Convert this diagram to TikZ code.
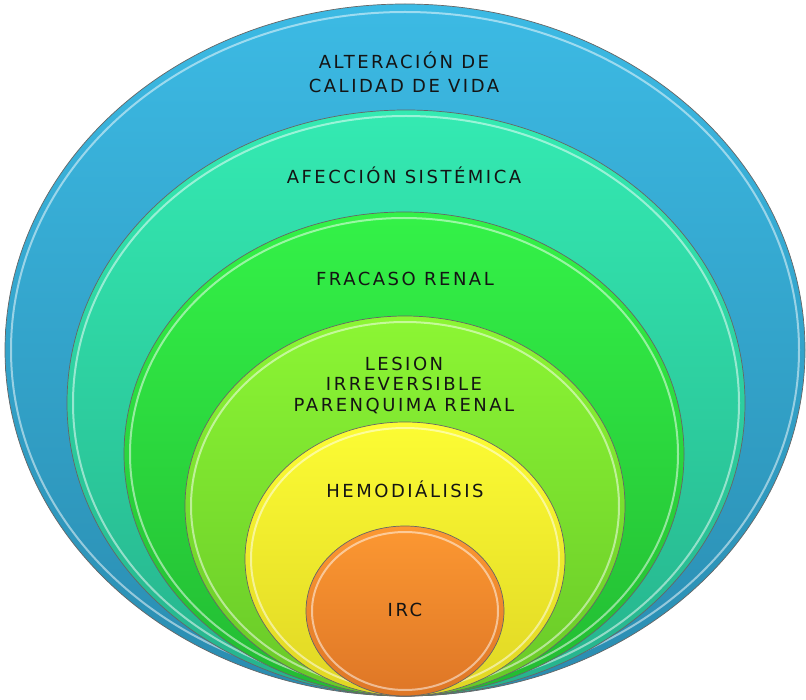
\documentclass[tikz,border=0pt]{standalone}
\usepackage{fontspec}
\newfontfamily\ringfont[LetterSpace=14]{DejaVu Sans}
\usetikzlibrary{shapes.geometric,positioning}

\definecolor{vidatop}{RGB}{60,186,228}
\definecolor{vidabot}{RGB}{42,140,176}
\definecolor{sistop}{RGB}{52,234,178}
\definecolor{sisbot}{RGB}{38,178,140}
\definecolor{fractop}{RGB}{52,242,72}
\definecolor{fracbot}{RGB}{34,186,50}
\definecolor{lestop}{RGB}{140,246,52}
\definecolor{lesbot}{RGB}{104,200,40}
\definecolor{hemotop}{RGB}{252,252,52}
\definecolor{hemobot}{RGB}{224,214,36}
\definecolor{irctop}{RGB}{252,152,50}
\definecolor{ircbot}{RGB}{222,118,38}

\tikzset{
  layer/.style={ellipse, draw=black!60, line width=0.7pt, inner sep=0pt},
  shine/.style={draw=white, draw opacity=0.5, line width=2pt},
  caption/.style={font=\ringfont\fontsize{18}{24}\selectfont, text=black!92, align=center, inner sep=0pt}
}

\begin{document}
\begin{tikzpicture}[x=1pt,y=-1pt]
  \useasboundingbox (0,0) rectangle (806,700);

  % rings, outside in
  \node (vida) [layer, top color=vidatop, bottom color=vidabot,
    minimum width=800pt, minimum height=692pt] at (405,350) {};
  \draw[shine] (vida.center) ellipse (394pt and 338pt);
  \node (sistema) [layer, top color=sistop, bottom color=sisbot,
    minimum width=678pt, minimum height=586pt] at (406,403) {};
  \draw[shine] (sistema.center) ellipse (333pt and 287pt);
  \node (fracaso) [layer, top color=fractop, bottom color=fracbot,
    minimum width=560pt, minimum height=484pt] at (404,454) {};
  \draw[shine] (fracaso.center) ellipse (274pt and 236pt);
  \node (lesion) [layer, top color=lestop, bottom color=lesbot,
    minimum width=440pt, minimum height=380pt] at (405,506) {};
  \draw[shine] (lesion.center) ellipse (214pt and 184pt);
  \node (hemo) [layer, top color=hemotop, bottom color=hemobot,
    minimum width=320pt, minimum height=274pt] at (405,559) {};
  \draw[shine] (hemo.center) ellipse (154pt and 131pt);
  \node (irc) [layer, top color=irctop, bottom color=ircbot,
    minimum width=198pt, minimum height=170pt] at (405,611) {};
  \draw[shine] (irc.center) ellipse (93pt and 79pt);

  % texts
  \node (vidatxt) [caption] at (404,72) {ALTERACIÓN DE\\CALIDAD DE VIDA};
  \node (sistxt) [caption] at (404,175) {AFECCIÓN SISTÉMICA};
  \node (fractxt) [caption] at (405,279) {FRACASO RENAL};
  \node (lestxt) [caption, font=\ringfont\fontsize{18}{20.5}\selectfont] at (404,385)
    {LESION\\IRREVERSIBLE\\PARENQUIMA RENAL};
  \node (hemotxt) [caption] at (405,489) {HEMODIÁLISIS};
  \node (irctxt) [caption] at (405,610) {IRC};
\end{tikzpicture}
\end{document}
